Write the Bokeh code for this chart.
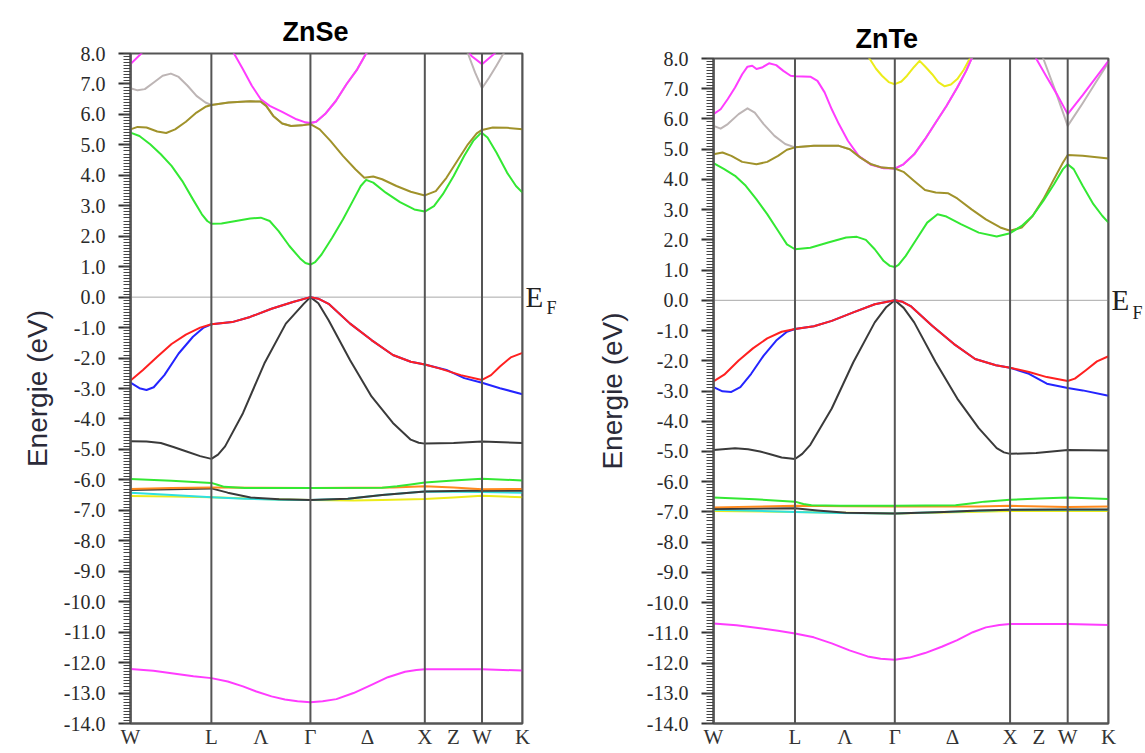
from bokeh.plotting import figure
from bokeh.layouts import row, column
from bokeh.models import (Range1d, FixedTicker, SingleIntervalTicker, NumeralTickFormatter, Span,
                          LinearAxis)
from bokeh.embed import file_html
from bokeh.resources import INLINE

# ---------------- k-path ----------------
SYM_K = [0.0, 0.707, 1.573, 2.573, 3.073, 3.427]
XTICK_K = [0.0, 0.707, 1.140, 1.573, 2.073, 2.573, 2.823, 3.073, 3.427]
XTICK_LBL = ["W", "L", "Λ", "Γ", "Δ", "X", "Z", "W", "K"]
E_MIN, E_MAX = -14.0, 8.0

# ---------------- ZnSe bands (k, E in eV) ----------------
se_s = [(0.0,-12.21),(0.200,-12.27),(0.359,-12.35),(0.550,-12.45),(0.707,-12.51),(0.850,-12.62),(0.983,-12.78),
        (1.100,-12.95),(1.233,-13.11),(1.350,-13.21),(1.460,-13.27),(1.573,-13.30),(1.680,-13.27),(1.800,-13.20),
        (1.950,-13.00),(2.107,-12.73),(2.250,-12.48),(2.400,-12.30),(2.500,-12.24),(2.573,-12.22),(3.073,-12.22),
        (3.427,-12.26)]
se_d_yellow = [(0.0,-6.53),(0.359,-6.55),(0.707,-6.57),(1.140,-6.63),(1.573,-6.66),(1.950,-6.68),(2.200,-6.66),
               (2.573,-6.63),(2.823,-6.58),(3.073,-6.52),(3.427,-6.57)]
se_d_cyan = [(0.0,-6.42),(0.359,-6.50),(0.707,-6.57),(1.000,-6.62),(1.300,-6.65),(1.573,-6.66),(1.900,-6.62),
             (2.200,-6.50),(2.573,-6.38),(3.073,-6.40),(3.427,-6.42)]
se_d_dark = [(0.0,-6.33),(0.359,-6.31),(0.707,-6.28),(0.850,-6.42),(1.050,-6.58),(1.300,-6.64),(1.573,-6.66),
             (1.900,-6.62),(2.200,-6.50),(2.573,-6.38),(3.073,-6.35),(3.427,-6.36)]
se_d_orange = [(0.0,-6.30),(0.359,-6.27),(0.707,-6.25),(1.140,-6.26),(1.573,-6.27),(2.300,-6.25),(2.573,-6.21),
               (2.823,-6.25),(3.073,-6.31),(3.427,-6.30)]
se_d_green = [(0.0,-5.97),(0.359,-6.03),(0.707,-6.10),(0.760,-6.16),(0.820,-6.23),(1.000,-6.27),(1.573,-6.27),
              (2.200,-6.26),(2.330,-6.21),(2.450,-6.15),(2.573,-6.09),(2.823,-6.02),(3.073,-5.96),(3.427,-6.02)]
se_vb_dark = [(0.0,-4.73),(0.140,-4.74),(0.265,-4.79),(0.375,-4.92),(0.484,-5.06),(0.609,-5.22),(0.707,-5.31),
              (0.765,-5.17),(0.827,-4.90),(0.983,-3.81),(1.170,-2.18),(1.358,-0.87),(1.514,-0.22),(1.573,0.0),
              (1.642,-0.20),(1.732,-0.76),(1.920,-2.07),(2.107,-3.26),(2.294,-4.13),(2.450,-4.68),(2.520,-4.78),
              (2.573,-4.81),(2.825,-4.79),(3.073,-4.74),(3.427,-4.79)]
se_vb_blue = [(0.0,-2.81),(0.078,-2.99),(0.140,-3.05),(0.203,-2.96),(0.296,-2.56),(0.421,-1.85),(0.546,-1.30),
              (0.640,-1.00),(0.707,-0.89),(0.889,-0.82),(1.046,-0.65),(1.233,-0.38),(1.420,-0.16),(1.573,0.0),
              (1.642,-0.05),(1.732,-0.22),(1.920,-0.87),(2.107,-1.41),(2.294,-1.90),(2.450,-2.12),(2.573,-2.21),
              (2.762,-2.39),(2.918,-2.66),(3.073,-2.81),(3.230,-2.99),(3.427,-3.19)]
se_vb_red = [(0.0,-2.74),(0.109,-2.39),(0.234,-1.96),(0.359,-1.54),(0.484,-1.23),(0.609,-1.00),(0.707,-0.89),
             (0.889,-0.82),(1.046,-0.65),(1.233,-0.38),(1.420,-0.16),(1.573,0.0),(1.642,-0.05),(1.732,-0.22),
             (1.920,-0.87),(2.107,-1.41),(2.294,-1.90),(2.450,-2.12),(2.573,-2.21),(2.700,-2.34),(2.887,-2.56),
             (3.073,-2.72),(3.152,-2.56),(3.230,-2.28),(3.324,-1.98),(3.427,-1.83)]
se_cb_green = [(0.0,5.40),(0.078,5.29),(0.172,5.02),(0.265,4.69),(0.359,4.31),(0.453,3.81),(0.546,3.21),
               (0.624,2.72),(0.671,2.50),(0.707,2.41),(0.796,2.42),(0.921,2.50),(1.046,2.58),(1.139,2.61),
               (1.217,2.50),(1.295,2.17),(1.389,1.68),(1.483,1.27),(1.529,1.12),(1.573,1.07),(1.614,1.15),
               (1.670,1.40),(1.763,1.95),(1.857,2.55),(1.951,3.21),(2.013,3.65),(2.060,3.85),(2.122,3.76),
               (2.232,3.43),(2.356,3.12),(2.481,2.88),(2.573,2.81),(2.653,2.99),(2.731,3.38),(2.825,3.98),
               (2.918,4.64),(2.996,5.13),(3.058,5.37),(3.073,5.39),(3.121,5.24),(3.199,4.75),(3.292,4.09),
               (3.370,3.65),(3.427,3.43)]
se_cb_olive = [(0.0,5.51),(0.062,5.59),(0.140,5.57),(0.234,5.44),(0.312,5.39),(0.390,5.51),(0.484,5.76),
               (0.577,6.06),(0.655,6.25),(0.707,6.31),(0.858,6.39),(1.046,6.43),(1.139,6.42),(1.186,6.28),
               (1.248,5.95),(1.326,5.70),(1.404,5.62),(1.498,5.64),(1.573,5.68),(1.654,5.51),(1.748,5.13),
               (1.857,4.64),(1.966,4.20),(2.044,3.92),(2.122,3.96),(2.200,3.87),(2.325,3.65),(2.450,3.46),
               (2.573,3.34),(2.669,3.48),(2.762,3.92),(2.856,4.47),(2.950,5.02),(3.027,5.38),(3.073,5.49),
               (3.167,5.57),(3.292,5.56),(3.427,5.51)]
se_cb_gray = [(0.0,6.86),(0.062,6.79),(0.125,6.83),(0.203,7.05),(0.281,7.27),(0.353,7.34),(0.421,7.23),
              (0.499,6.94),(0.577,6.61),(0.655,6.39),(0.707,6.31),(0.858,6.39),(1.046,6.43),(1.139,6.42),
              (1.186,6.28),(1.248,5.95),(1.326,5.70),(1.404,5.62),(1.498,5.64),(1.573,5.72),(1.623,5.76),
              (1.701,6.01),(1.795,6.44),(1.888,6.99),(1.982,7.48),(2.060,8.0),(2.300,9.0),(2.573,9.5),
              (2.800,9.0),(2.950,8.0),(3.012,7.38),(3.073,6.86),(3.136,7.21),(3.199,7.60),(3.261,8.0),(3.427,9.0)]
se_cb_magenta = [(0.0,7.65),(0.094,8.0),(0.250,8.8),(0.450,9.2),(0.707,9.0),(0.850,8.4),(0.905,8.0),
                 (0.983,7.48),(1.061,6.94),(1.139,6.50),(1.217,6.28),(1.326,6.08),(1.451,5.84),(1.529,5.74),
                 (1.573,5.72),(1.623,5.76),(1.701,6.01),(1.795,6.44),(1.888,6.99),(1.982,7.48),(2.060,8.0),
                 (2.300,9.0),(2.573,9.5),(2.800,9.0),(2.981,7.92),(3.073,7.65),(3.183,8.0),(3.427,9.0)]

# ---------------- ZnTe bands (k, E in eV) ----------------
te_s = [(0.0,-10.69),(0.200,-10.75),(0.404,-10.85),(0.560,-10.93),(0.707,-11.02),(0.870,-11.15),(1.026,-11.35),
        (1.180,-11.58),(1.337,-11.78),(1.450,-11.86),(1.573,-11.89),(1.700,-11.82),(1.835,-11.67),(1.980,-11.46),
        (2.115,-11.24),(2.250,-10.98),(2.363,-10.82),(2.480,-10.74),(2.573,-10.71),(3.073,-10.71),(3.427,-10.74)]
te_d_yellow = [(0.0,-6.97),(0.707,-7.00),(1.140,-7.03),(1.573,-7.05),(2.200,-7.00),(2.573,-6.97),(3.073,-6.97),
               (3.427,-6.97)]
te_d_cyan = [(0.0,-6.93),(0.359,-6.96),(0.707,-7.00),(1.100,-7.04),(1.573,-7.05),(2.000,-7.00),(2.573,-6.93),
             (3.073,-6.93),(3.427,-6.93)]
te_d_dark = [(0.0,-6.90),(0.707,-6.88),(0.900,-6.95),(1.150,-7.03),(1.573,-7.05),(2.000,-7.00),(2.300,-6.95),
             (2.573,-6.93),(3.073,-6.92),(3.427,-6.92)]
te_d_orange = [(0.0,-6.85),(0.707,-6.80),(1.140,-6.81),(1.573,-6.82),(2.300,-6.82),(2.573,-6.80),(3.073,-6.84),
               (3.427,-6.82)]
te_d_green = [(0.0,-6.52),(0.359,-6.58),(0.707,-6.66),(0.780,-6.74),(0.850,-6.78),(1.100,-6.80),(1.573,-6.80),
              (2.100,-6.78),(2.230,-6.72),(2.350,-6.66),(2.573,-6.60),(2.823,-6.56),(3.073,-6.52),(3.427,-6.57)]
te_vb_dark = [(0.0,-4.95),(0.187,-4.89),(0.300,-4.93),(0.404,-5.00),(0.500,-5.10),(0.591,-5.20),(0.707,-5.25),
              (0.770,-5.08),(0.840,-4.78),(1.026,-3.58),(1.213,-2.05),(1.399,-0.73),(1.500,-0.22),(1.573,0.0),
              (1.650,-0.25),(1.741,-0.73),(1.928,-2.05),(2.115,-3.25),(2.301,-4.23),(2.457,-4.89),(2.520,-5.03),
              (2.573,-5.08),(2.799,-5.05),(3.073,-4.95),(3.427,-4.97)]
te_vb_blue = [(0.0,-2.87),(0.078,-3.01),(0.155,-3.03),(0.233,-2.87),(0.327,-2.43),(0.435,-1.83),(0.544,-1.33),
              (0.637,-1.04),(0.707,-0.95),(0.871,-0.86),(1.026,-0.68),(1.213,-0.40),(1.399,-0.13),(1.573,0.0),
              (1.640,-0.05),(1.710,-0.19),(1.897,-0.84),(2.084,-1.44),(2.270,-1.94),(2.450,-2.15),(2.573,-2.23),
              (2.737,-2.43),(2.892,-2.76),(3.073,-2.90),(3.203,-2.98),(3.427,-3.16)]
te_vb_red = [(0.0,-2.68),(0.093,-2.46),(0.218,-1.99),(0.342,-1.59),(0.466,-1.26),(0.591,-1.04),(0.707,-0.95),
             (0.871,-0.86),(1.026,-0.68),(1.213,-0.40),(1.399,-0.13),(1.573,0.0),(1.640,-0.05),(1.710,-0.19),
             (1.897,-0.84),(2.084,-1.44),(2.270,-1.94),(2.450,-2.15),(2.573,-2.23),(2.737,-2.37),(2.892,-2.54),
             (3.073,-2.67),(3.135,-2.59),(3.228,-2.32),(3.327,-2.02),(3.427,-1.85)]
te_cb_green = [(0.0,4.54),(0.093,4.34),(0.187,4.12),(0.280,3.79),(0.373,3.34),(0.466,2.85),(0.560,2.30),
               (0.637,1.85),(0.707,1.69),(0.840,1.74),(0.995,1.91),(1.151,2.08),(1.244,2.10),(1.322,2.00),
               (1.399,1.69),(1.477,1.30),(1.530,1.14),(1.573,1.10),(1.605,1.17),(1.668,1.47),(1.761,2.02),
               (1.854,2.57),(1.944,2.85),(2.021,2.77),(2.146,2.52),(2.301,2.24),(2.457,2.11),(2.573,2.22),
               (2.674,2.46),(2.768,2.79),(2.861,3.29),(2.954,3.84),(3.032,4.34),(3.073,4.50),(3.125,4.34),
               (3.203,3.79),(3.296,3.18),(3.374,2.79),(3.427,2.57)]
te_cb_olive = [(0.0,4.83),(0.078,4.89),(0.155,4.78),(0.249,4.58),(0.373,4.50),(0.466,4.58),(0.560,4.78),
               (0.637,4.98),(0.707,5.06),(0.871,5.11),(1.088,5.11),(1.182,5.00),(1.275,4.72),(1.368,4.50),
               (1.462,4.39),(1.573,4.36),(1.648,4.25),(1.741,3.95),(1.835,3.65),(1.928,3.57),(2.037,3.54),
               (2.115,3.37),(2.239,3.01),(2.363,2.68),(2.488,2.41),(2.573,2.30),(2.674,2.41),(2.768,2.79),
               (2.861,3.34),(2.954,4.01),(3.032,4.56),(3.073,4.81),(3.203,4.78),(3.427,4.69)]
te_cb_gray = [(0.0,5.77),(0.062,5.68),(0.124,5.83),(0.218,6.16),(0.295,6.35),(0.358,6.21),(0.435,5.83),
              (0.529,5.44),(0.622,5.17),(0.707,5.06),(0.871,5.11),(1.088,5.11),(1.182,5.00),(1.275,4.72),
              (1.368,4.50),(1.462,4.39),(1.573,4.36),(1.648,4.50),(1.741,4.83),(1.835,5.33),(1.928,5.88),
              (2.021,6.43),(2.115,7.04),(2.192,7.59),(2.239,8.0),(2.450,9.0),(2.573,9.3),(2.750,9.0),
              (2.861,8.0),(2.970,6.89),(3.073,5.77),(3.203,6.52),(3.327,7.27),(3.427,7.87)]
te_cb_magenta = [(0.0,6.16),(0.062,6.32),(0.124,6.66),(0.187,7.04),(0.249,7.48),(0.295,7.73),(0.336,7.76),
                 (0.373,7.65),(0.420,7.70),(0.482,7.84),(0.544,7.78),(0.606,7.59),(0.669,7.43),(0.707,7.41),
                 (0.840,7.40),(0.902,7.26),(0.964,6.88),(1.026,6.32),(1.088,5.83),(1.166,5.28),(1.259,4.78),
                 (1.368,4.48),(1.477,4.37),(1.573,4.36),(1.648,4.50),(1.741,4.83),(1.835,5.33),(1.928,5.88),
                 (2.021,6.43),(2.115,7.04),(2.192,7.59),(2.239,8.0),(2.450,9.0),(2.573,9.5),(2.700,9.0),
                 (2.799,8.0),(2.892,7.38),(2.985,6.78),(3.073,6.16),(3.203,6.79),(3.327,7.42),(3.427,7.92)]
te_cb_yellow = [(1.250,8.6),(1.353,8.0),(1.410,7.66),(1.462,7.43),(1.520,7.22),(1.573,7.15),(1.630,7.24),
                (1.679,7.43),(1.740,7.72),(1.788,7.92),(1.840,7.72),(1.897,7.48),(1.950,7.22),(2.006,7.08),
                (2.060,7.14),(2.115,7.32),(2.170,7.62),(2.224,8.0),(2.330,8.6)]

# ---------------- colours ----------------
C_GREEN = "#33e833"
C_OLIVE = "#a0922a"
C_GRAY = "#bdb5b5"
C_MAGENTA = "#ff3cff"
C_RED = "#ff2020"
C_BLUE = "#2424ff"
C_DARK = "#3a3a3a"
C_ORANGE = "#ff8a1e"
C_CYAN = "#2fe0e0"
C_YELLOW = "#ecec1a"

SE_BANDS = [
    (se_s, C_MAGENTA), (se_d_yellow, C_YELLOW), (se_d_cyan, C_CYAN), (se_d_dark, C_DARK),
    (se_d_orange, C_ORANGE), (se_d_green, C_GREEN), (se_vb_dark, C_DARK), (se_vb_blue, C_BLUE),
    (se_vb_red, C_RED), (se_cb_gray, C_GRAY), (se_cb_magenta, C_MAGENTA), (se_cb_olive, C_OLIVE),
    (se_cb_green, C_GREEN),
]
TE_BANDS = [
    (te_s, C_MAGENTA), (te_d_yellow, C_YELLOW), (te_d_cyan, C_CYAN), (te_d_dark, C_DARK),
    (te_d_orange, C_ORANGE), (te_d_green, C_GREEN), (te_vb_dark, C_DARK), (te_vb_blue, C_BLUE),
    (te_vb_red, C_RED), (te_cb_yellow, C_YELLOW), (te_cb_gray, C_GRAY), (te_cb_magenta, C_MAGENTA),
    (te_cb_olive, C_OLIVE), (te_cb_green, C_GREEN),
]


def make_panel(title, bands, w, h, b_left, b_right, b_top, b_bottom, title_offset, title_standoff,
               f_pos, ylabel_standoff):
    p = figure(width=w, height=h, output_backend="svg", toolbar_location=None,
               x_range=Range1d(SYM_K[0], SYM_K[-1]), y_range=Range1d(E_MIN, E_MAX),
               min_border_left=b_left, min_border_right=b_right, min_border_top=b_top,
               min_border_bottom=b_bottom, background_fill_color="white", border_fill_color="white")
    p.xgrid.visible = False
    p.ygrid.visible = False
    p.outline_line_color = "#555555"
    p.outline_line_width = 2

    p.title.text = title
    p.title.align = "left"
    p.title.offset = title_offset
    p.title.standoff = title_standoff
    p.title.text_font = "Liberation Sans"
    p.title.text_font_size = "27px"
    p.title.text_font_style = "bold"
    p.title.text_color = "black"

    # Fermi level
    p.add_layout(Span(location=0.0, dimension="width", line_color="#a8a8a8", line_width=1, level="underlay"))

    for band, col in bands:
        p.line([b[0] for b in band], [b[1] for b in band], line_color=col, line_width=2,
               line_join="round")

    for k in SYM_K:
        p.add_layout(Span(location=k, dimension="height", line_color="#555555", line_width=2))

    # x axis
    xa = p.xaxis[0]
    xa.ticker = FixedTicker(ticks=XTICK_K)
    xa.major_label_overrides = dict(zip(XTICK_K, XTICK_LBL))
    xa.major_tick_line_color = None
    xa.minor_tick_line_color = None
    xa.major_tick_out = 0
    xa.major_tick_in = 0
    xa.axis_line_color = "#555555"
    xa.axis_line_width = 2
    xa.major_label_text_font = "Liberation Serif"
    xa.major_label_text_font_size = "21px"
    xa.major_label_text_color = "#333333"
    xa.major_label_standoff = 1

    # y axis
    ya = p.yaxis[0]
    ya.ticker = SingleIntervalTicker(interval=1, num_minor_ticks=10)
    ya.formatter = NumeralTickFormatter(format="0.0")
    ya.axis_line_color = "#555555"
    ya.axis_line_width = 2
    ya.major_tick_out = 12
    ya.major_tick_in = 0
    ya.minor_tick_out = 7
    ya.minor_tick_in = 0
    ya.major_tick_line_color = "#333333"
    ya.major_tick_line_width = 2
    ya.minor_tick_line_color = "#444444"
    ya.minor_tick_line_width = 1
    ya.major_label_text_font = "Liberation Serif"
    ya.major_label_text_font_size = "20px"
    ya.major_label_text_color = "#2a2a2a"
    ya.major_label_standoff = 13
    ya.axis_label = "Energie (eV)"
    ya.axis_label_text_font = "Liberation Sans"
    ya.axis_label_text_font_size = "28px"
    ya.axis_label_text_font_style = "normal"
    ya.axis_label_text_color = "#2a2a38"
    ya.axis_label_standoff = ylabel_standoff

    # E_F label on the right, as two label-only axes
    ax_e = LinearAxis(ticker=FixedTicker(ticks=[0.0]), major_label_overrides={0.0: "E"})
    ax_f = LinearAxis(ticker=FixedTicker(ticks=[f_pos]), major_label_overrides={f_pos: "F"})
    for ax, size, standoff in ((ax_e, "29px", 3), (ax_f, "18px", 0)):
        ax.axis_line_color = None
        ax.major_tick_line_color = None
        ax.minor_tick_line_color = None
        ax.major_tick_out = 0
        ax.major_tick_in = 0
        ax.minor_tick_out = 0
        ax.major_label_text_font = "Liberation Serif"
        ax.major_label_text_font_size = size
        ax.major_label_text_color = "#222222"
        ax.major_label_standoff = standoff
        p.add_layout(ax, "right")
    return p


p1 = make_panel("ZnSe", SE_BANDS, 570, 753, 130, 48, 53, 30, 152, 14, -0.36, 8)
p2 = make_panel("ZnTe", TE_BANDS, 575, 753, 143, 35, 58, 30, 142, 10, -0.42, 16)

layout = row(column(p1), column(p2))
open("out.html", "w").write(file_html(layout, INLINE))
